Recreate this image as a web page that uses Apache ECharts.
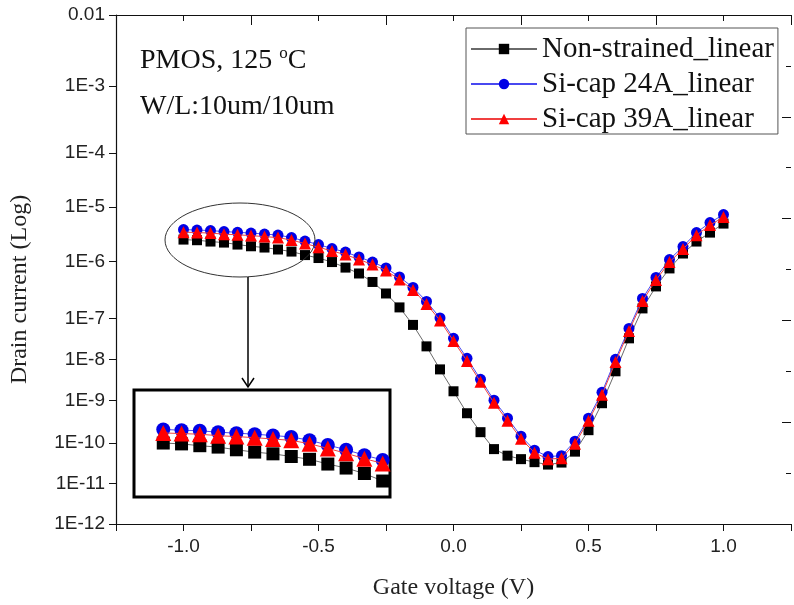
<!DOCTYPE html>
<html>
<head>
<meta charset="utf-8">
<script src="https://cdn.jsdelivr.net/npm/echarts@6/dist/echarts.min.js"></script>
<style>
    html, body { margin: 0; padding: 0; background: #fff; }
    #main { width: 794px; height: 605px; }
</style>
</head>
<body>
<div id="main"></div>
<script>
    // gate voltage (V)
    const gateVoltage = [-1.00, -0.95, -0.90, -0.85, -0.80, -0.75, -0.70, -0.65, -0.60, -0.55,
        -0.50, -0.45, -0.40, -0.35, -0.30, -0.25, -0.20, -0.15, -0.10, -0.05,
        0.00, 0.05, 0.10, 0.15, 0.20, 0.25, 0.30, 0.35, 0.40, 0.45,
        0.50, 0.55, 0.60, 0.65, 0.70, 0.75, 0.80, 0.85, 0.90, 0.95, 1.00];

    // drain current (A), read against the plot's decade grid
    const nonStrained = [3.87e-7, 3.76e-7, 3.54e-7, 3.38e-7, 3.09e-7, 2.86e-7, 2.70e-7, 2.47e-7, 2.25e-7, 1.92e-7,
        1.68e-7, 1.40e-7, 1.09e-7, 8.35e-8, 5.69e-8, 3.38e-8, 1.80e-8, 8.16e-9, 3.09e-9, 1.09e-9,
        4.05e-10, 1.50e-10, 6.37e-11, 2.96e-11, 2.20e-11, 1.88e-11, 1.64e-11, 1.47e-11, 1.61e-11, 2.64e-11,
        6.97e-11, 2.36e-10, 1.00e-9, 4.44e-9, 1.72e-8, 4.65e-8, 1.05e-7, 2.06e-7, 3.54e-7, 5.31e-7, 7.98e-7];
    const siCap24 = [6.08e-7, 5.95e-7, 5.82e-7, 5.56e-7, 5.38e-7, 5.20e-7, 4.97e-7, 4.75e-7, 4.24e-7, 3.62e-7,
        3.09e-7, 2.58e-7, 2.20e-7, 1.76e-7, 1.40e-7, 1.07e-7, 7.13e-8, 4.44e-8, 2.36e-8, 1.12e-8,
        4.44e-9, 1.80e-9, 6.97e-10, 2.70e-10, 1.20e-10, 5.31e-11, 2.82e-11, 2.11e-11, 2.20e-11, 4.24e-11,
        1.20e-10, 3.87e-10, 1.72e-9, 6.97e-9, 2.70e-8, 6.97e-8, 1.57e-7, 2.82e-7, 5.31e-7, 8.35e-7, 1.20e-6];
    const siCap39 = [5.42e-7, 5.31e-7, 5.19e-7, 4.95e-7, 4.80e-7, 4.63e-7, 4.43e-7, 4.23e-7, 3.78e-7, 3.23e-7,
        2.75e-7, 2.30e-7, 1.96e-7, 1.57e-7, 1.25e-7, 9.53e-8, 6.35e-8, 3.95e-8, 2.10e-8, 9.98e-9,
        3.95e-9, 1.60e-9, 6.21e-10, 2.40e-10, 1.07e-10, 4.73e-11, 2.52e-11, 1.88e-11, 1.96e-11, 3.78e-11,
        1.07e-10, 3.45e-10, 1.53e-9, 6.21e-9, 2.40e-8, 6.21e-8, 1.40e-7, 2.52e-7, 4.73e-7, 7.45e-7, 1.07e-6];

    const seriesNames = ['Non-strained_linear', 'Si-cap 24A_linear', 'Si-cap 39A_linear'];

    // left tick labels, and where they sit on the decade grid (log10 units)
    const yTickLabels = ['0.01', '1E-3', '1E-4', '1E-5', '1E-6', '1E-7', '1E-8', '1E-9', '1E-10', '1E-11', '1E-12'];
    const yTickPos = [-2, -3.39, -4.71, -5.77, -6.84, -7.96, -8.77, -9.57, -10.41, -11.2, -12];

    // points shown magnified in the inset box
    const insetCount = 13;

    function pairs(ys, n, fn) {
        let out = [];
        const len = n || gateVoltage.length;
        for (let i = 0; i < len; i++) {
            out.push([gateVoltage[i], fn ? fn(ys[i]) : ys[i]]);
        }
        return out;
    }

    const serif = '"Liberation Serif", "Times New Roman", serif';
    const sans = '"Liberation Sans", Arial, sans-serif';

    const styles = [
        {symbol: 'rect', size: 10, insetSize: 13, color: '#000000', line: '#6a6a6a'},
        {symbol: 'circle', size: 11, insetSize: 14, color: '#0000e6', line: '#4848f0'},
        {symbol: 'triangle', size: 12, insetSize: 16, color: '#ff0000', line: '#f04040'}
    ];
    const dataSets = [nonStrained, siCap24, siCap39];

    let series = [];
    dataSets.forEach((d, i) => {
        series.push({
            name: seriesNames[i],
            type: 'line',
            xAxisIndex: 0,
            yAxisIndex: 0,
            data: pairs(d),
            symbol: styles[i].symbol,
            symbolSize: styles[i].size,
            showAllSymbol: true,
            itemStyle: {color: styles[i].color},
            lineStyle: {color: styles[i].line, width: 1},
            z: 3 + i
        });
    });
    // inset: magnified view, plotted on log10 of the same values
    dataSets.forEach((d, i) => {
        series.push({
            name: seriesNames[i],
            type: 'line',
            xAxisIndex: 2,
            yAxisIndex: 3,
            data: pairs(d, insetCount, Math.log10),
            symbol: styles[i].symbol,
            symbolSize: styles[i].insetSize,
            showAllSymbol: true,
            itemStyle: {color: styles[i].color},
            lineStyle: {color: styles[i].line, width: 1},
            z: 6 + i
        });
    });

    let myChart = echarts.init(document.getElementById('main'), null, {renderer: 'canvas'});
    myChart.setOption({
        animation: false,
        backgroundColor: '#ffffff',
        legend: {
            data: seriesNames,
            orient: 'vertical',
            left: 466,
            top: 28,
            padding: [6, 4, 0, 4],
            itemGap: 5,
            itemWidth: 66,
            itemHeight: 13,
            borderColor: '#555',
            borderWidth: 1,
            textStyle: {fontFamily: serif, fontSize: 29, color: '#111', lineHeight: 30}
        },
        grid: [
            {left: 115, top: 15, width: 680, height: 510},
            {left: 134, top: 390, width: 256, height: 107, show: true, borderWidth: 3, borderColor: '#000'}
        ],
        xAxis: [
            {
                gridIndex: 0, type: 'value', position: 'bottom',
                min: -1.25, max: 1.25, interval: 0.25,
                axisLine: {onZero: false, lineStyle: {color: '#111', width: 1.2}},
                axisTick: {length: 7, lineStyle: {color: '#111'}},
                axisLabel: {
                    margin: 13, fontFamily: sans, fontSize: 19, color: '#222',
                    formatter: function (v) {
                        return Math.abs(v * 2 - Math.round(v * 2)) < 1e-6 ? v.toFixed(1) : '';
                    }
                },
                splitLine: {show: false},
                name: 'Gate voltage (V)', nameLocation: 'middle', nameGap: 52,
                nameTextStyle: {fontFamily: serif, fontSize: 24, color: '#222'}
            },
            {
                gridIndex: 0, type: 'value', position: 'top',
                min: -1.25, max: 1.25, interval: 0.5,
                axisLine: {onZero: false, lineStyle: {color: '#111', width: 1.2}},
                axisTick: {inside: true, length: 10, lineStyle: {color: '#111'}},
                minorTick: {show: true, splitNumber: 2, length: 6, lineStyle: {color: '#111'}},
                axisLabel: {show: false},
                splitLine: {show: false}
            },
            {gridIndex: 1, type: 'value', min: -1.08, max: -0.38, show: false}
        ],
        yAxis: [
            {
                gridIndex: 0, type: 'log', position: 'left',
                min: 1e-12, max: 1e-2,
                axisLine: {onZero: false, lineStyle: {color: '#111', width: 1.2}},
                axisTick: {show: false},
                axisLabel: {show: false},
                splitLine: {show: false},
                name: 'Drain current (Log)', nameLocation: 'middle', nameGap: 84,
                nameTextStyle: {fontFamily: serif, fontSize: 24, color: '#222', padding: [0, 40, 0, 0]}
            },
            {
                gridIndex: 0, type: 'value', position: 'left',
                min: -12, max: -2,
                axisLine: {show: false, onZero: false},
                axisTick: {show: true, length: 7, customValues: yTickPos, lineStyle: {color: '#111'}},
                axisLabel: {
                    customValues: yTickPos, margin: 11, fontFamily: sans, fontSize: 19, color: '#222',
                    formatter: function (v) {
                        let best = 0;
                        for (let i = 1; i < yTickPos.length; i++) {
                            if (Math.abs(yTickPos[i] - v) < Math.abs(yTickPos[best] - v)) best = i;
                        }
                        return yTickLabels[best];
                    }
                },
                splitLine: {show: false}
            },
            {
                gridIndex: 0, type: 'value', position: 'right',
                min: -12, max: -2, interval: 2,
                axisLine: {show: false, onZero: false},
                axisTick: {inside: true, length: 9, lineStyle: {color: '#111'}},
                minorTick: {show: true, splitNumber: 2, length: 5, lineStyle: {color: '#111'}},
                axisLabel: {show: false},
                splitLine: {show: false}
            },
            {gridIndex: 1, type: 'value', min: -7.194, max: -5.644, show: false}
        ],
        graphic: [
            {
                type: 'text', left: 140, top: 45,
                style: {
                    text: 'PMOS, 125 {sup|o}C',
                    font: '28px ' + serif, fill: '#111', lineHeight: 32,
                    rich: {sup: {fontSize: 17, fontFamily: serif, verticalAlign: 'top', lineHeight: 32}}
                }
            },
            {
                type: 'text', left: 140, top: 93,
                style: {text: 'W/L:10um/10um', font: '28px ' + serif, fill: '#111'}
            },
            {
                type: 'ellipse',
                shape: {cx: 240, cy: 240, rx: 75, ry: 37},
                style: {fill: 'transparent', stroke: '#333', lineWidth: 1},
                z: 10
            },
            {
                type: 'line',
                shape: {x1: 248, y1: 277, x2: 248, y2: 386},
                style: {stroke: '#000', lineWidth: 1.5},
                z: 10
            },
            {
                type: 'polyline',
                shape: {points: [[242, 378], [248, 387], [254, 378]]},
                style: {stroke: '#000', lineWidth: 1.5, fill: null},
                z: 10
            }
        ],
        series: series
    });
</script>
</body>
</html>
